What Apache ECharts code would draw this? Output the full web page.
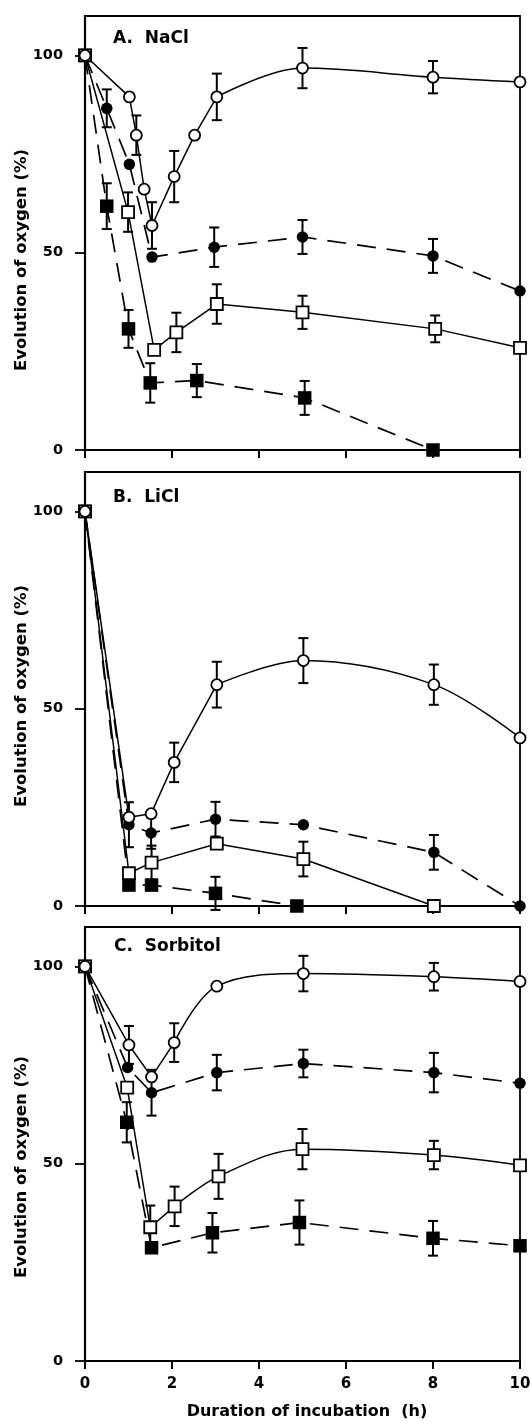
<!DOCTYPE html>
<html>
<head>
<meta charset="utf-8">
<script src="https://cdn.jsdelivr.net/npm/echarts@6/dist/echarts.min.js"></script>
<style>
  html, body { margin: 0; padding: 0; background: #fff; }
  #chart { width: 530px; height: 1423px; }
</style>
</head>
<body>
<div id="chart"></div>
<script>
// Oxygen evolution (% of control) during incubation in NaCl, LiCl and sorbitol.
// Each point: [hours, percent, ± error bar]
const naclOpenCircles   = [[0,100,0],[1.02,89.5,0],[1.18,79.8,5.0],[1.36,66.1,0],[1.54,56.9,5.9],[2.05,69.3,6.5],[2.52,79.8,0],[3.03,89.5,5.9],[5.0,96.8,5.1],[8.0,94.5,4.1],[10,93.3,0]];
const naclFilledCircles = [[0,100,0],[0.5,86.6,4.8],[1.02,72.4,0],[1.54,48.9,0],[2.97,51.4,5.0],[5.0,54.0,4.3],[8.0,49.2,4.3],[10,40.3,0]];
const naclOpenSquares   = [[0,100,0],[0.99,60.3,5.0],[1.59,25.4,0],[2.1,29.8,5.0],[3.03,37.0,5.0],[5.0,34.9,4.2],[8.05,30.7,3.4],[10,25.9,0]];
const naclFilledSquares = [[0,100,0],[0.5,61.8,5.8],[1.0,30.7,4.8],[1.5,17.0,5.0],[2.57,17.6,4.2],[5.05,13.2,4.3],[8.0,0,0]];

const liclOpenCircles   = [[0,100,0],[1.01,22.5,0],[1.52,23.4,0],[2.05,36.4,5.0],[3.03,56.1,5.8],[5.02,62.2,5.7],[8.02,56.1,5.1],[10,42.6,0]];
const liclFilledCircles = [[0,100,0],[1.01,20.6,5.7],[1.52,18.5,4.0],[3.0,22.0,4.4],[5.02,20.6,0],[8.02,13.6,4.4],[10,0,0]];
const liclOpenSquares   = [[0,100,0],[1.01,8.3,0],[1.53,11.0,4.3],[3.03,15.8,0],[5.02,11.9,4.4],[8.02,0,0]];
const liclFilledSquares = [[0,100,0],[1.01,5.3,0],[1.53,5.3,0],[3.0,3.2,4.2],[4.87,0,0]];

const sorbitolOpenCircles   = [[0,100,0],[1.01,80.1,4.8],[1.53,72.0,0],[2.05,80.7,4.9],[3.03,95.0,0],[5.02,98.2,4.5],[8.02,97.4,3.5],[10,96.2,0]];
const sorbitolFilledCircles = [[0,100,0],[0.98,74.4,0],[1.53,68.0,5.8],[3.03,73.1,4.5],[5.02,75.4,3.5],[8.02,73.1,5.0],[10,70.4,0]];
const sorbitolOpenSquares   = [[0,100,0],[0.97,69.3,0],[1.5,33.9,5.5],[2.06,39.2,5.0],[3.07,46.8,5.7],[5.0,53.7,5.1],[8.02,52.2,3.6],[10,49.6,0]];
const sorbitolFilledSquares = [[0,100,0],[0.96,60.5,5.1],[1.53,28.7,0],[2.93,32.5,5.0],[4.93,35.1,5.6],[8.0,31.1,4.4],[10,29.2,0]];

const panelTitles = ['A.  NaCl', 'B.  LiCl', 'C.  Sorbitol'];
const hourTicks = [0, 2, 4, 6, 8, 10];
const percentTicks = [0, 50, 100];
const yTitle = 'Evolution of oxygen (%)';
const xTitle = 'Duration of incubation  (h)';

// curveFrom: index of the point from which the connecting line is drawn as a smooth curve
const panels = [
  { oc: naclOpenCircles, fc: naclFilledCircles, os: naclOpenSquares, fs: naclFilledSquares, ocCurveFrom: 7, osCurveFrom: -1 },
  { oc: liclOpenCircles, fc: liclFilledCircles, os: liclOpenSquares, fs: liclFilledSquares, ocCurveFrom: 4, osCurveFrom: -1 },
  { oc: sorbitolOpenCircles, fc: sorbitolFilledCircles, os: sorbitolOpenSquares, fs: sorbitolFilledSquares, ocCurveFrom: 3, osCurveFrom: 3 }
];

// layout
const plotLeft = 85, plotWidth = 435, plotHeight = 434;
const plotTops = [16, 472, 927];
const titleCenters = [260, 696, 1167];
const labelPos = [[113, 39], [113, 498], [114, 946.5]];
const FONT = '"DejaVu Sans", "Liberation Sans", Arial, sans-serif';
const INK = '#000';

const grids = plotTops.map(top => ({
  left: plotLeft, width: plotWidth, top: top, height: plotHeight,
  containLabel: false, outerBoundsMode: 'none',
  show: true, borderColor: INK, borderWidth: 1.8, backgroundColor: 'transparent'
}));

const xAxes = plotTops.map((_, i) => ({
  gridIndex: i, type: 'value', min: 0, max: 10, interval: 2,
  axisLine: { show: true, onZero: false, lineStyle: { color: INK, width: 2.2 } },
  axisTick: { show: true, inside: false, length: 8, customValues: hourTicks, lineStyle: { color: INK, width: 2 } },
  axisLabel: { show: i === 2, customValues: hourTicks, margin: 16, fontFamily: FONT, fontWeight: 'bold', fontSize: 15, color: INK },
  splitLine: { show: false }
}));

const yAxes = plotTops.map((_, i) => ({
  gridIndex: i, type: 'value', min: 0, max: 110,
  axisLine: { show: true, lineStyle: { color: INK, width: 2.2 } },
  axisTick: { show: true, inside: false, length: 10, customValues: percentTicks, lineStyle: { color: INK, width: 1.8 } },
  axisLabel: { show: true, customValues: percentTicks, margin: 22, fontFamily: FONT, fontWeight: 'bold', fontSize: 14.5, color: INK },
  splitLine: { show: false }
}));

function errorBars(points, idx) {
  return {
    type: 'custom', xAxisIndex: idx, yAxisIndex: idx, z: 2, clip: false,
    data: points.filter(p => p[2] > 0),
    renderItem: function (params, api) {
      const x = api.value(0), y = api.value(1), e = api.value(2);
      const top = api.coord([x, y + e]);
      const bot = api.coord([x, y - e]);
      const half = 5;
      const st = { stroke: INK, lineWidth: 2 };
      return {
        type: 'group',
        children: [
          { type: 'line', shape: { x1: top[0], y1: top[1], x2: bot[0], y2: bot[1] }, style: st },
          { type: 'line', shape: { x1: top[0] - half, y1: top[1], x2: top[0] + half, y2: top[1] }, style: st },
          { type: 'line', shape: { x1: bot[0] - half, y1: bot[1], x2: bot[0] + half, y2: bot[1] }, style: st }
        ]
      };
    }
  };
}

function connector(points, idx, dashed, smooth) {
  return {
    type: 'line', xAxisIndex: idx, yAxisIndex: idx, z: 3, clip: false,
    data: points.map(p => [p[0], p[1]]),
    symbol: 'none',
    smooth: smooth ? 0.35 : false,
    lineStyle: dashed
      ? { color: INK, width: 1.7, type: [19, 11] }
      : { color: INK, width: 1.5, type: 'solid' },
    emphasis: { disabled: true }
  };
}

// straight segments up to curveFrom, smooth curve afterwards
function lines(points, idx, dashed, curveFrom) {
  if (curveFrom < 0) return [connector(points, idx, dashed, false)];
  return [
    connector(points.slice(0, curveFrom + 1), idx, dashed, false),
    connector(points.slice(curveFrom), idx, dashed, true)
  ];
}

function markers(points, idx, kind) {
  const filled = kind === 'fc' || kind === 'fs';
  const square = kind === 'os' || kind === 'fs';
  const size = { oc: 11, fc: 11.5, os: 12, fs: 13.5 }[kind];
  return {
    type: 'scatter', xAxisIndex: idx, yAxisIndex: idx, z: 4, clip: false,
    data: points.map(p => [p[0], p[1]]),
    symbol: square ? 'rect' : 'circle',
    symbolSize: size,
    itemStyle: filled
      ? { color: INK, borderWidth: 0, opacity: 1 }
      : { color: '#fff', borderColor: INK, borderWidth: 1.8, opacity: 1 },
    emphasis: { disabled: true }
  };
}

const series = [];
panels.forEach((p, i) => {
  series.push(errorBars(p.fs, i), errorBars(p.os, i), errorBars(p.fc, i), errorBars(p.oc, i));
  series.push(...lines(p.fs, i, true, -1));
  series.push(...lines(p.os, i, false, p.osCurveFrom));
  series.push(...lines(p.fc, i, true, -1));
  series.push(...lines(p.oc, i, false, p.ocCurveFrom));
  series.push(markers(p.fs, i, 'fs'), markers(p.os, i, 'os'), markers(p.fc, i, 'fc'), markers(p.oc, i, 'oc'));
});

const graphics = [];
titleCenters.forEach(cy => {
  graphics.push({
    type: 'text', x: 22, y: cy, rotation: Math.PI / 2,
    style: { text: yTitle, font: 'bold 16.5px ' + FONT, fill: INK, align: 'center', verticalAlign: 'middle' }
  });
});
panelTitles.forEach((t, i) => {
  graphics.push({
    type: 'text', x: labelPos[i][0], y: labelPos[i][1],
    style: { text: t, font: 'bold 17px ' + FONT, fill: INK, align: 'left', verticalAlign: 'middle' }
  });
});
graphics.push({
  type: 'text', x: 307, y: 1412,
  style: { text: xTitle, font: 'bold 16px ' + FONT, fill: INK, align: 'center', verticalAlign: 'middle' }
});

const chart = echarts.init(document.getElementById('chart'), null, { renderer: 'canvas' });
chart.setOption({
  backgroundColor: '#fff',
  animation: false,
  grid: grids,
  xAxis: xAxes,
  yAxis: yAxes,
  series: series,
  graphic: graphics
});
</script>
</body>
</html>
